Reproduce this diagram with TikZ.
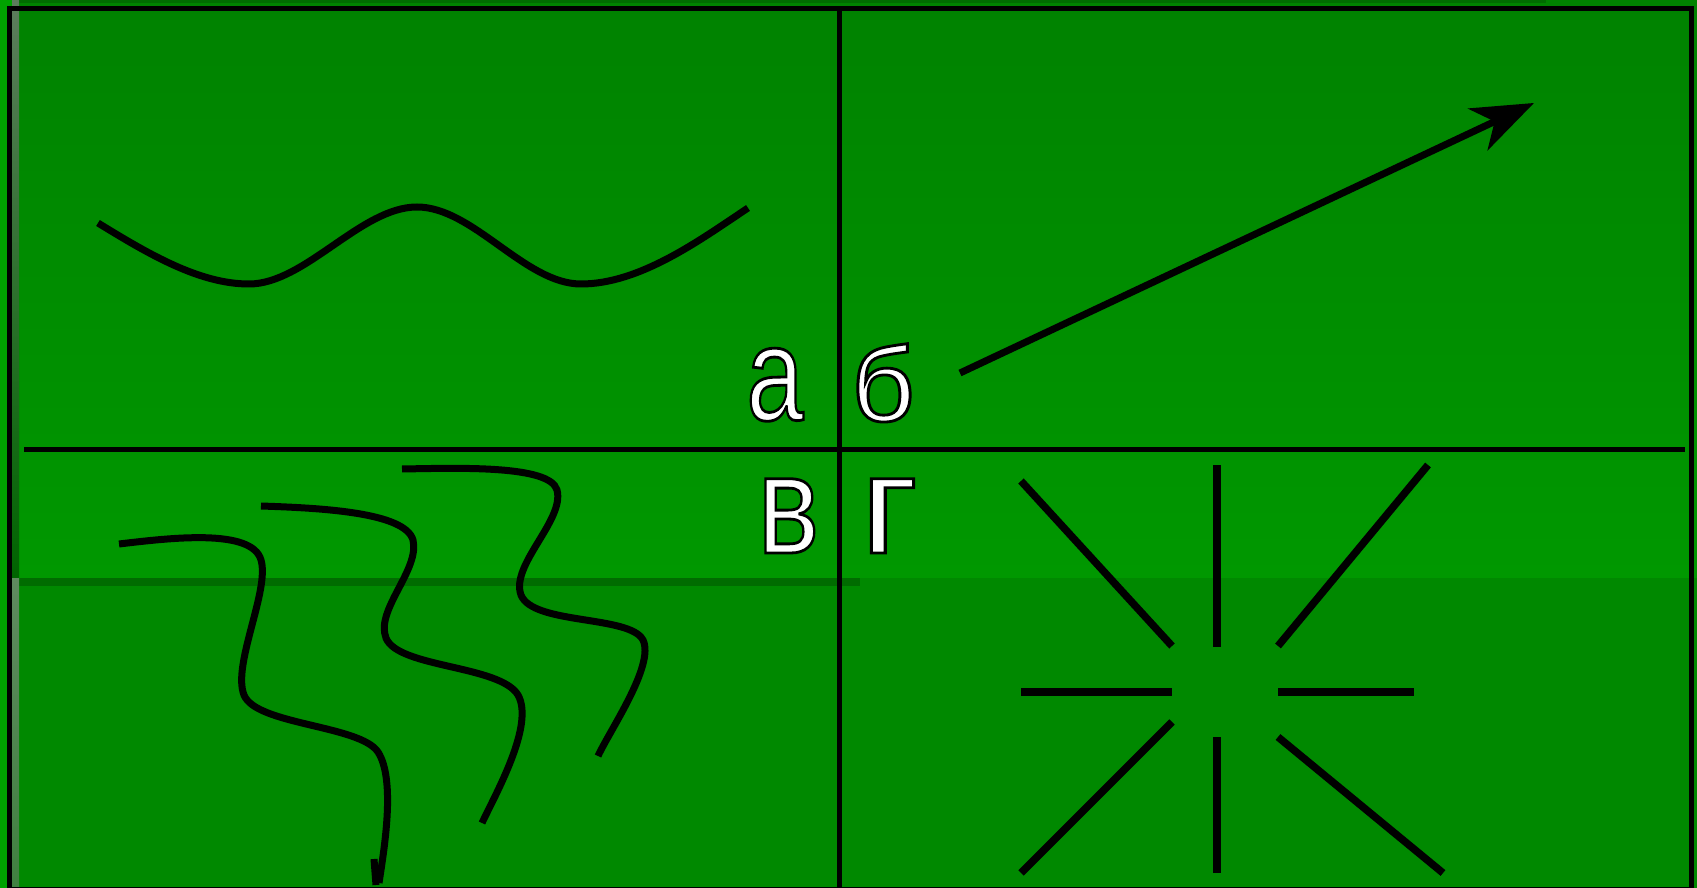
\documentclass[tikz,border=0pt]{standalone}
\usepackage{fontspec}
\usetikzlibrary{arrows.meta}
\newfontfamily\labelfont{Liberation Sans}
\definecolor{topgreen}{RGB}{0,130,0}
\definecolor{midgreen}{RGB}{0,152,0}
\definecolor{lowgreen}{RGB}{0,137,0}
\definecolor{bandgreen}{RGB}{0,108,0}
\definecolor{edgegreen}{RGB}{0,162,0}
\definecolor{stripgray}{RGB}{92,125,92}
\definecolor{stripdark}{RGB}{0,100,0}
\definecolor{striplow}{RGB}{95,138,95}
\newcommand{\outlinetext}[1]{\special{pdf:literal direct 2 Tr 1.6 w 0 0 0 RG}#1\special{pdf:literal direct 0 Tr}}
\tikzset{
  curve/.style={line width=0.14cm},
  ray/.style={line width=0.15cm},
  grid line/.style={line width=0.1cm},
  letter/.style={inner sep=0pt, anchor=base west, text=white}
}
\begin{document}
\begin{tikzpicture}[x=0.02cm, y=-0.02cm]
    \useasboundingbox (0,0) rectangle (1697,888);

    \fill[edgegreen] (0,0) rectangle (1697,888);
    \shade[top color=topgreen, bottom color=midgreen] (12,0) rectangle (1697,578);
    \fill[lowgreen] (12,578) rectangle (1697,888);
    \fill[bandgreen] (12,578) rectangle (860,586);
    \fill[bandgreen] (19,0) rectangle (1546,3);
    \shade[top color=stripgray, bottom color=stripdark] (12,0) rectangle (19,578);
    \shade[top color=striplow, bottom color=stripgray!70!lowgreen] (12,578) rectangle (19,888);

    \draw[grid line] (9.5,8.5) rectangle (1691,889);
    \draw[grid line] (839,8.5) -- (839,889);
    \draw[grid line] (24,449) -- (1685,449);

    \draw[curve] (98,223) .. controls (150,255) and (200,284) .. (249,284)
        .. controls (305,284) and (361,207) .. (417,207)
        .. controls (473,207) and (525,284) .. (581,284)
        .. controls (640,284) and (700,240) .. (748,208);

    \draw[curve, -{Stealth[length=1.24cm, width=0.92cm, inset=0.37cm]}] (960,373) -- (1534,103);

    \draw[curve] (119,544) .. controls (170,538) and (252,528) .. (261,560)
        .. controls (270,590) and (232,665) .. (244,695)
        .. controls (256,725) and (360,725) .. (378,752)
        .. controls (396,780) and (384,850) .. (379,883);
    \draw[curve] (374,859) -- (376,885);
    \draw[curve] (261,506) .. controls (320,508) and (405,512) .. (413,540)
        .. controls (420,570) and (375,610) .. (386,638)
        .. controls (398,668) and (500,665) .. (518,695)
        .. controls (535,725) and (495,795) .. (482,823);
    \draw[curve] (402,469) .. controls (460,468) and (550,465) .. (557,490)
        .. controls (565,520) and (510,565) .. (521,595)
        .. controls (533,625) and (630,615) .. (643,640)
        .. controls (655,665) and (610,730) .. (598,756);

    \draw[ray] (1021,481) -- (1172,646);
    \draw[ray] (1217,465) -- (1217,647);
    \draw[ray] (1428,465) -- (1278,646);
    \draw[ray] (1021,692) -- (1172,692);
    \draw[ray] (1278,692) -- (1414,692);
    \draw[ray] (1172,722) -- (1021,873);
    \draw[ray] (1217,737) -- (1217,873);
    \draw[ray] (1278,737) -- (1443,873);

    \node[letter, font=\labelfont\fontsize{76}{82}\selectfont] (a) at (746,420) {\scalebox{0.77}[1]{\outlinetext{а}}};
    \node[letter, font=\labelfont\fontsize{60}{66}\selectfont] (b) at (851,421) {\scalebox{1.05}[1]{\outlinetext{б}}};
    \node[letter, font=\labelfont\fontsize{80}{86}\selectfont] (v) at (757,553) {\scalebox{0.83}[1]{\outlinetext{в}}};
    \node[letter, font=\labelfont\fontsize{80}{86}\selectfont] (g) at (860,553) {\scalebox{1.13}[1]{\outlinetext{г}}};
\end{tikzpicture}
\end{document}
